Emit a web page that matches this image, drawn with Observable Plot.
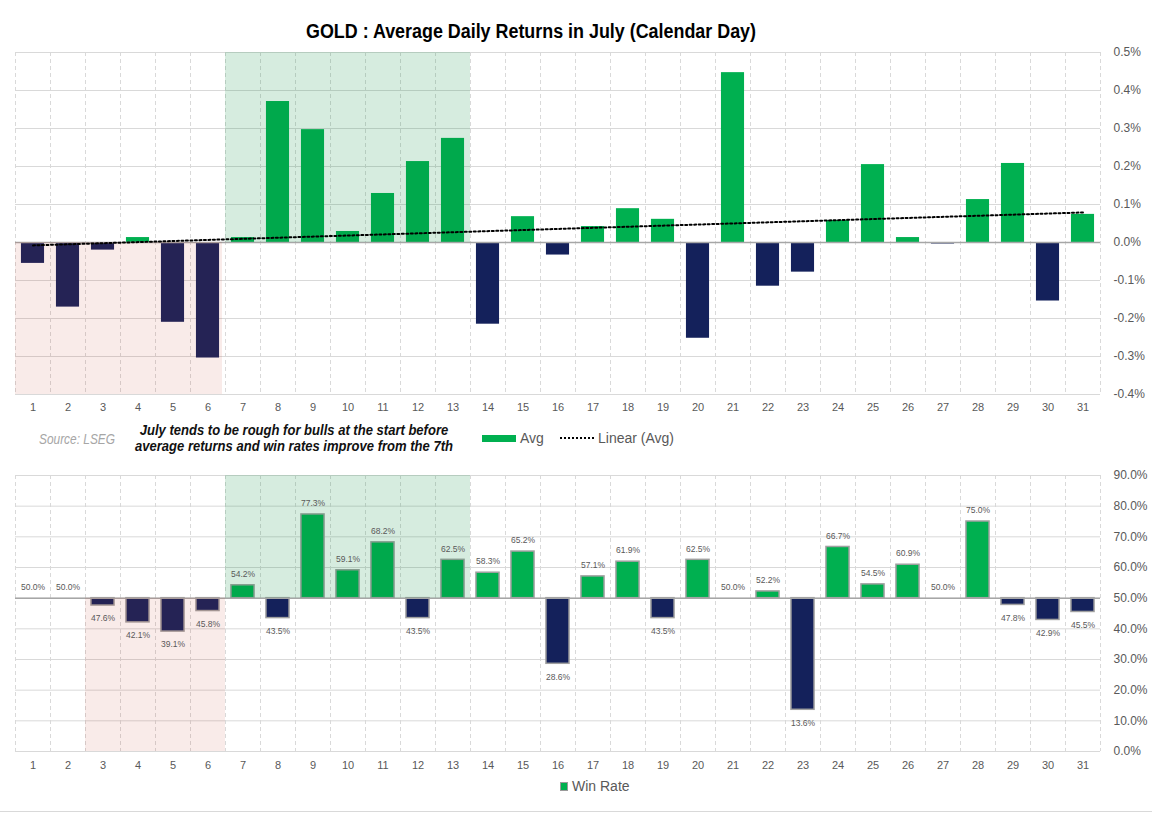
<!DOCTYPE html>
<html>
<head>
<meta charset="utf-8">
<script src="https://cdn.jsdelivr.net/npm/d3@7"></script>
<script src="https://cdn.jsdelivr.net/npm/@observablehq/plot@0.6"></script>
<style>
  body { margin: 0; background: #fff; width: 1152px; height: 813px; position: relative; overflow: hidden;
         font-family: 'Liberation Sans', Arial, sans-serif; }
  .abs { position: absolute; white-space: nowrap; }
  #title { left: 531px; top: 20px; line-height: 20px; font: bold 20px 'Liberation Sans', Arial, sans-serif; color: #000; }
  #topChart { left: 0; top: 40px; }
  #bottomChart { left: 0; top: 463px; }
  #source { left: 39px; top: 431px; line-height: 15px; font: italic 14px 'Liberation Sans', Arial, sans-serif; color: #a6a6a6; }
  #note { left: 294px; top: 422px; text-align: center; line-height: 17px;
          font: italic bold 14px 'Liberation Sans', Arial, sans-serif; color: #111; }
  .legtext { font-size: 14px; color: #595959; line-height: 16px; }
  .swatch { position: absolute; }
  #rule { left: 0; top: 811px; width: 1152px; height: 1px; background: #d9d9d9; }
</style>
</head>
<body>
<div id="title" class="abs">GOLD : Average Daily Returns in July (Calendar Day)</div>
<div id="topChart" class="abs"></div>
<div id="source" class="abs">Source: LSEG</div>
<div id="note" class="abs">July tends to be rough for bulls at the start before<br>average returns and win rates improve from the 7th</div>
<div class="swatch" style="left:482px;top:435px;width:34px;height:7px;background:#00B050"></div>
<div class="abs legtext" style="left:520px;top:430px">Avg</div>
<div class="swatch" style="left:560px;top:437px;width:34px;height:0;border-top:2px dotted #000"></div>
<div class="abs legtext" style="left:598px;top:430px">Linear (Avg)</div>
<div id="bottomChart" class="abs"></div>
<div class="swatch" style="left:560px;top:782px;width:6px;height:7px;background:#00B050;border:1px solid #9a9a9a"></div>
<div class="abs legtext" style="left:572px;top:778px">Win Rate</div>
<div id="rule" class="abs"></div>

<script>
// Calendar days of July
const days = [1, 2, 3, 4, 5, 6, 7, 8, 9, 10, 11, 12, 13, 14, 15, 16,
              17, 18, 19, 20, 21, 22, 23, 24, 25, 26, 27, 28, 29, 30, 31];

// Average daily return of gold per calendar day (%)
const avgReturn = [-0.055, -0.170, -0.020, 0.013, -0.210, -0.304, 0.013, 0.371, 0.297, 0.029,
                   0.129, 0.213, 0.274, -0.215, 0.068, -0.033, 0.042, 0.089, 0.061, -0.252,
                   0.447, -0.115, -0.078, 0.058, 0.205, 0.013, -0.004, 0.113, 0.208, -0.154, 0.074];

// Share of years with a positive return on that day (%)
const winRate = [50.0, 50.0, 47.6, 42.1, 39.1, 45.8, 54.2, 43.5, 77.3, 59.1,
                 68.2, 43.5, 62.5, 58.3, 65.2, 28.6, 57.1, 61.9, 43.5, 62.5,
                 50.0, 52.2, 13.6, 66.7, 54.5, 60.9, 50.0, 75.0, 47.8, 42.9, 45.5];

// Axis ticks
const avgTicks = [-0.4, -0.3, -0.2, -0.1, 0.0, 0.1, 0.2, 0.3, 0.4, 0.5];
const winTicks = [0, 10, 20, 30, 40, 50, 60, 70, 80, 90];

// Highlighted spans of days
const roughStartAvg = [1, 6];
const roughStartWin = [3, 6];
const strongRun = [7, 13];

const GREEN = "#00B050";
const NAVY = "#14215b";
const GRID = "#d9d9d9";
const half = 0.33; // half bar width, in days

const avgData = days.map((d, i) => ({day: d, value: avgReturn[i]}));
const winData = days.map((d, i) => ({day: d, value: winRate[i]}));
const boundaries = days.map(d => d - 0.5).concat(days[days.length - 1] + 0.5);

// Least-squares trend of the average returns
const mx = d3.mean(days), my = d3.mean(avgReturn);
const slope = d3.sum(days, (d, i) => (d - mx) * (avgReturn[i] - my)) / d3.sum(days, d => (d - mx) ** 2);
const intercept = my - slope * mx;
const trend = [days[0], days[days.length - 1]].map(d => ({day: d, value: intercept + slope * d}));

// Condense a text block horizontally to a given width
function condense(id, width, centered) {
  const el = document.getElementById(id);
  const w = el.getBoundingClientRect().width;
  const k = width / w;
  el.style.transformOrigin = centered ? "50% 50%" : "0 50%";
  el.style.transform = (centered ? "translateX(-50%) " : "") + `scaleX(${k})`;
}
condense("title", 450, true);
condense("note", 318, true);
condense("source", 76, false);

function styleAxes(svg) {
  svg.querySelectorAll('[aria-label^="x-axis"]').forEach(g => g.setAttribute("font-size", "11"));
  svg.querySelectorAll('[aria-label^="y-axis"]').forEach(g => g.setAttribute("font-size", "12"));
}

const topChart = Plot.plot({
  width: 1152, height: 384,
  marginLeft: 15, marginRight: 52, marginTop: 12, marginBottom: 30,
  style: {fontFamily: "'Liberation Sans', Arial, sans-serif", fontSize: "12px", color: "#595959", background: "transparent"},
  x: {domain: [0.5, 31.5], ticks: days, tickFormat: d => d, tickSize: 0, tickPadding: 9, label: null},
  y: {domain: [-0.4, 0.5], ticks: avgTicks, tickFormat: d => d.toFixed(1) + "%", axis: "right", tickSize: 0, tickPadding: 13, label: null},
  marks: [
    Plot.ruleY(avgTicks, {stroke: GRID, strokeWidth: 1}),
    Plot.ruleX(boundaries, {stroke: GRID, strokeWidth: 1, strokeDasharray: "4,3"}),
    Plot.rect(avgData, {x1: d => d.day - half, x2: d => d.day + half, y1: 0, y2: d => d.value,
                        fill: d => d.value >= 0 ? GREEN : NAVY}),
    Plot.ruleY([0], {stroke: "#a6a6a6", strokeWidth: 1.5}),
    Plot.rect([roughStartAvg], {x1: d => d[0] - 0.5, x2: d => d[1] + 0.5, y1: -0.4, y2: 0,
                                fill: "#c0392b", fillOpacity: 0.1, insetRight: 3}),
    Plot.rect([strongRun], {x1: d => d[0] - 0.5, x2: d => d[1] + 0.5, y1: 0, y2: 0.5,
                            fill: "#008a3a", fillOpacity: 0.16}),
    Plot.line(trend, {x: "day", y: "value", stroke: "#000", strokeWidth: 2, strokeDasharray: "2,2.5"})
  ]
});
styleAxes(topChart);
document.getElementById("topChart").append(topChart);

const bottomChart = Plot.plot({
  width: 1152, height: 314,
  marginLeft: 15, marginRight: 52, marginTop: 12, marginBottom: 26,
  style: {fontFamily: "'Liberation Sans', Arial, sans-serif", fontSize: "12px", color: "#595959", background: "transparent"},
  x: {domain: [0.5, 31.5], ticks: days, tickFormat: d => d, tickSize: 0, tickPadding: 10, label: null},
  y: {domain: [0, 90], ticks: winTicks, tickFormat: d => d.toFixed(1) + "%", axis: "right", tickSize: 0, tickPadding: 13, label: null},
  marks: [
    Plot.ruleY(winTicks, {stroke: GRID, strokeWidth: 1}),
    Plot.ruleX(boundaries, {stroke: GRID, strokeWidth: 1, strokeDasharray: "4,3"}),
    Plot.rect(winData.filter(d => d.value !== 50), {
      x1: d => d.day - half, x2: d => d.day + half, y1: 50, y2: d => d.value,
      fill: d => d.value > 50 ? GREEN : NAVY, stroke: "#a0a0a0", strokeWidth: 1.5, ariaLabel: "win-bars"}),
    Plot.ruleY([50], {stroke: "#a6a6a6", strokeWidth: 1.5}),
    Plot.rect([roughStartWin], {x1: d => d[0] - 0.5, x2: d => d[1] + 0.5, y1: 0, y2: 50,
                                fill: "#c0392b", fillOpacity: 0.1}),
    Plot.rect([strongRun], {x1: d => d[0] - 0.5, x2: d => d[1] + 0.5, y1: 50, y2: 90,
                            fill: "#008a3a", fillOpacity: 0.16}),
    Plot.text(winData.filter(d => d.value >= 50), {x: "day", y: "value", text: d => d.value.toFixed(1) + "%",
                                                   dy: -11, fontSize: 8.5, fill: "#595959"}),
    Plot.text(winData.filter(d => d.value < 50), {x: "day", y: "value", text: d => d.value.toFixed(1) + "%",
                                                  dy: 13, fontSize: 8.5, fill: "#595959"})
  ]
});
styleAxes(bottomChart);
bottomChart.querySelectorAll('[aria-label="win-bars"]').forEach(g =>
  g.style.filter = "drop-shadow(2px 2px 1.5px rgba(0,0,0,0.35))");
document.getElementById("bottomChart").append(bottomChart);
</script>
</body>
</html>
